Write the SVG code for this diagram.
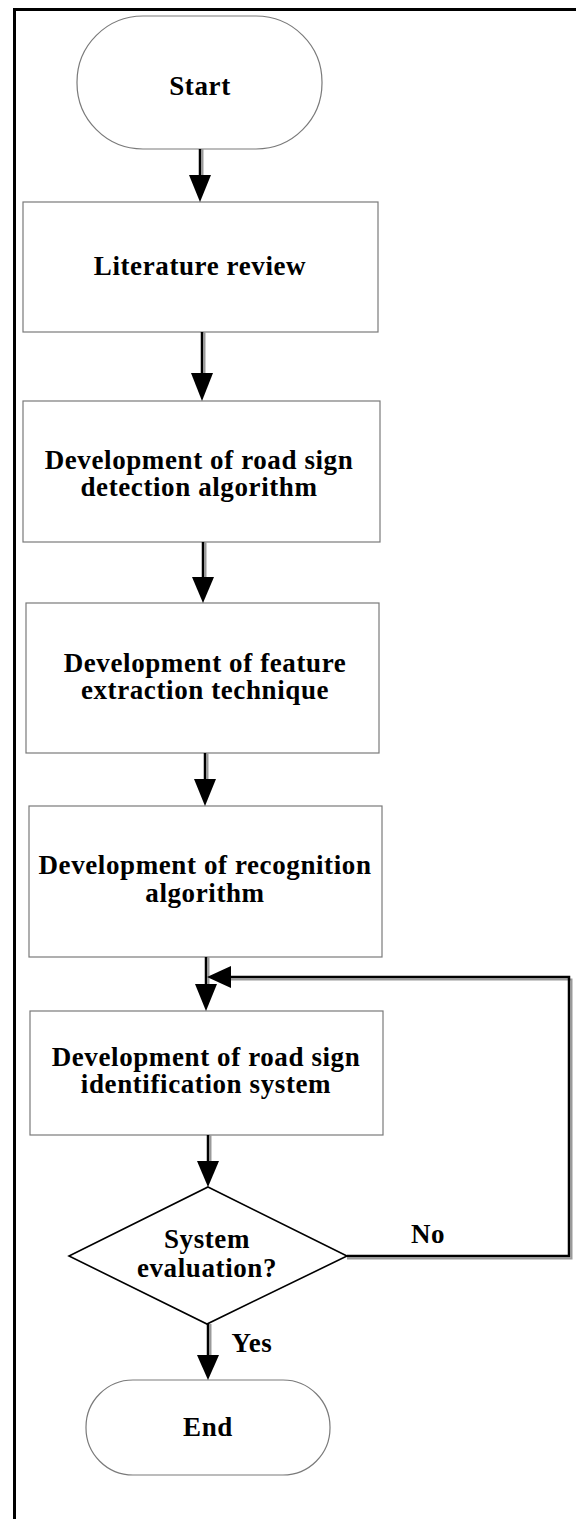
<svg xmlns="http://www.w3.org/2000/svg" width="576" height="1519" viewBox="0 0 576 1519">
<style>
.box{fill:#fff;stroke:#7a7a7a;stroke-width:1.2}
.term{fill:#fff;stroke:#7a7a7a;stroke-width:1.2}
.dia{fill:#fff;stroke:#000;stroke-width:1.6}
.t{font-family:"Liberation Serif","Times New Roman",serif;font-weight:bold;font-size:27px;fill:#000;text-anchor:middle;letter-spacing:0.6px}
.shaft{stroke:#000;stroke-width:2.5;fill:none}
.shadow{stroke:#9a9a9a;stroke-width:2;fill:none}
.head{fill:#000}
</style>
<rect width="576" height="1519" fill="#fff"/>
<g id="frame">
<path d="M14.5,1519 V9.5 H576" fill="none" stroke="#000" stroke-width="3"/>
</g>
<g id="start">
<rect class="term" x="77" y="16" width="245" height="133" rx="66" ry="66"/>
<text class="t" x="200" y="95">Start</text>
</g>
<g id="literature">
<rect class="box" x="23" y="202" width="355" height="130"/>
<text class="t" x="200" y="275">Literature review</text>
</g>
<g id="detection">
<rect class="box" x="23" y="401" width="357" height="141"/>
<text class="t" x="199" y="469">Development of road sign</text>
<text class="t" x="199" y="496">detection algorithm</text>
</g>
<g id="feature">
<rect class="box" x="26" y="603" width="353" height="150"/>
<text class="t" x="205" y="672">Development of feature</text>
<text class="t" x="205" y="699">extraction technique</text>
</g>
<g id="recognition">
<rect class="box" x="29" y="806" width="353" height="151"/>
<text class="t" x="205" y="874">Development of recognition</text>
<text class="t" x="205" y="902">algorithm</text>
</g>
<g id="identification">
<rect class="box" x="30" y="1011" width="353" height="124"/>
<text class="t" x="206" y="1066">Development of road sign</text>
<text class="t" x="206" y="1093">identification system</text>
</g>
<g id="evaluation">
<polygon class="dia" points="208,1187 347,1256 207,1324 69,1256"/>
<text class="t" x="207" y="1248">System</text>
<text class="t" x="207" y="1277">evaluation?</text>
</g>
<g id="end">
<rect class="term" x="86" y="1380" width="244" height="95" rx="47" ry="47"/>
<text class="t" x="208" y="1436">End</text>
</g>
<g id="connectors">
<line class="shadow" x1="202.5" y1="149" x2="202.5" y2="180"/>
<line class="shaft" x1="200" y1="149" x2="200" y2="180"/>
<polygon class="head" points="189,175 211,175 200,202"/>

<line class="shadow" x1="204.5" y1="332" x2="204.5" y2="378"/>
<line class="shaft" x1="202" y1="332" x2="202" y2="378"/>
<polygon class="head" points="191,373 213,373 202,401"/>

<line class="shadow" x1="205.5" y1="542" x2="205.5" y2="582"/>
<line class="shaft" x1="203" y1="542" x2="203" y2="582"/>
<polygon class="head" points="192,577 214,577 203,603"/>

<line class="shadow" x1="207.5" y1="753" x2="207.5" y2="784"/>
<line class="shaft" x1="205" y1="753" x2="205" y2="784"/>
<polygon class="head" points="194,779 216,779 205,806"/>

<line class="shadow" x1="208.5" y1="957" x2="208.5" y2="988"/>
<line class="shaft" x1="206" y1="957" x2="206" y2="988"/>
<polygon class="head" points="195,984 217,984 206,1011"/>

<line class="shadow" x1="210.5" y1="1135" x2="210.5" y2="1166"/>
<line class="shaft" x1="208" y1="1135" x2="208" y2="1166"/>
<polygon class="head" points="197,1161 219,1161 208,1187"/>

<line class="shadow" x1="210.5" y1="1324" x2="210.5" y2="1360"/>
<line class="shaft" x1="208" y1="1324" x2="208" y2="1360"/>
<polygon class="head" points="197,1355 219,1355 208,1380"/>

<path class="shadow" d="M347,1258.5 H571.5 V979.5 H228"/>
<path class="shaft" d="M347,1256 H569 V977 H228"/>
<polygon class="head" points="231,966 231,988 207,977"/>
</g>
<g id="labels">
<text class="t" x="428" y="1243">No</text>
<text class="t" x="252" y="1352">Yes</text>
</g>
</svg>
